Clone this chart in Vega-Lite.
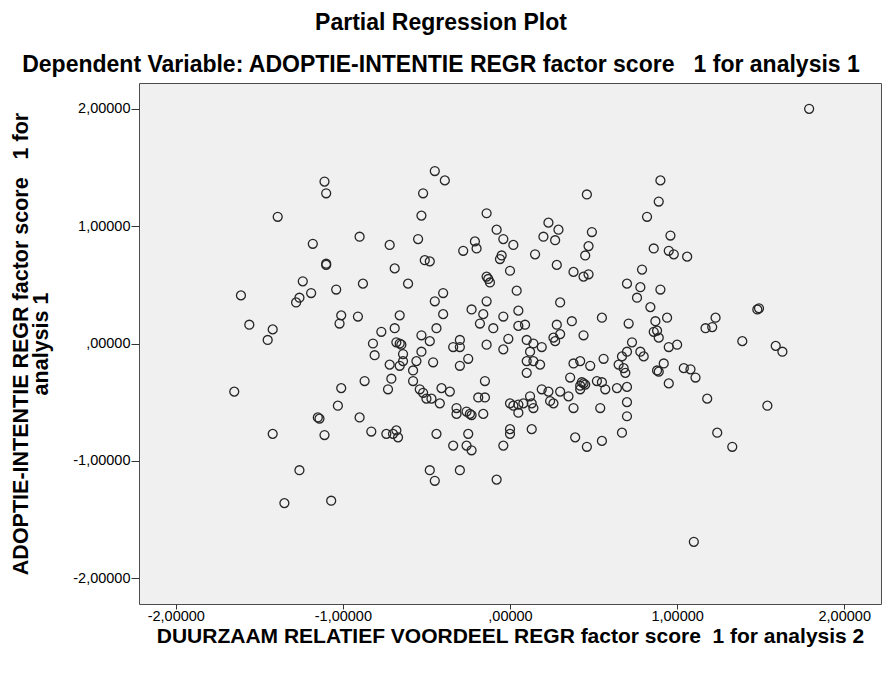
{
  "$schema": "https://vega.github.io/schema/vega-lite/v6.json",
  "width": 742,
  "height": 521,
  "autosize": {"type": "none"},
  "padding": {"left": 139, "top": 83, "right": 1, "bottom": 71},
  "background": "white",
  "title": {
    "text": "Partial Regression Plot",
    "subtitle": "Dependent Variable: ADOPTIE-INTENTIE REGR factor score\u00a0\u00a0 1 for analysis 1",
    "anchor": "middle",
    "dx": -69,
    "offset": 6,
    "font": "Liberation Sans",
    "fontSize": 23,
    "fontWeight": "bold",
    "color": "black",
    "subtitleFont": "Liberation Sans",
    "subtitleFontSize": 23,
    "subtitleFontWeight": "bold",
    "subtitleColor": "black",
    "subtitlePadding": 19
  },
  "data": {
    "values": [
      {"x": -1.11, "y": 1.38}, {"x": -1.10, "y": 1.28}, {"x": -1.39, "y": 1.08}, {"x": -0.90, "y": 0.91},
      {"x": -1.18, "y": 0.85}, {"x": -0.72, "y": 0.84}, {"x": -0.45, "y": 1.47}, {"x": -0.39, "y": 1.39},
      {"x": -0.52, "y": 1.28}, {"x": 0.46, "y": 1.27}, {"x": -0.53, "y": 1.09}, {"x": -0.14, "y": 1.11},
      {"x": 0.23, "y": 1.03}, {"x": 0.29, "y": 0.97}, {"x": -0.08, "y": 0.97}, {"x": 0.49, "y": 0.95},
      {"x": 0.20, "y": 0.91}, {"x": -0.04, "y": 0.89}, {"x": 0.27, "y": 0.88}, {"x": -0.55, "y": 0.89},
      {"x": -0.21, "y": 0.87}, {"x": -0.20, "y": 0.81}, {"x": -0.28, "y": 0.79}, {"x": 0.02, "y": 0.84},
      {"x": 0.47, "y": 0.83}, {"x": 0.15, "y": 0.76}, {"x": -0.05, "y": 0.75}, {"x": 0.45, "y": 0.75},
      {"x": 1.79, "y": 2.00}, {"x": 0.90, "y": 1.39}, {"x": 0.89, "y": 1.21}, {"x": 0.82, "y": 1.08},
      {"x": 0.96, "y": 0.92}, {"x": 0.86, "y": 0.81}, {"x": 0.95, "y": 0.79}, {"x": 0.98, "y": 0.76},
      {"x": 1.06, "y": 0.74}, {"x": -1.10, "y": 0.67}, {"x": -1.10, "y": 0.68}, {"x": -0.69, "y": 0.64},
      {"x": -1.24, "y": 0.53}, {"x": -0.88, "y": 0.51}, {"x": -1.04, "y": 0.46}, {"x": -1.19, "y": 0.43},
      {"x": -1.61, "y": 0.41}, {"x": -1.26, "y": 0.39}, {"x": -1.28, "y": 0.35}, {"x": -1.01, "y": 0.24},
      {"x": -0.91, "y": 0.23}, {"x": -1.02, "y": 0.17}, {"x": -1.56, "y": 0.16}, {"x": -1.42, "y": 0.12},
      {"x": -0.77, "y": 0.10}, {"x": -0.69, "y": 0.13}, {"x": -1.45, "y": 0.03}, {"x": -0.82, "y": 0.00},
      {"x": -0.81, "y": -0.10}, {"x": -0.72, "y": -0.18}, {"x": -0.71, "y": -0.30}, {"x": -0.87, "y": -0.32},
      {"x": -0.73, "y": -0.39}, {"x": -1.01, "y": -0.38}, {"x": -1.65, "y": -0.41}, {"x": -1.03, "y": -0.53},
      {"x": -0.90, "y": -0.63}, {"x": -1.15, "y": -0.63}, {"x": -1.14, "y": -0.64}, {"x": -1.42, "y": -0.77},
      {"x": -1.11, "y": -0.78}, {"x": -0.83, "y": -0.75}, {"x": -0.74, "y": -0.77}, {"x": -1.26, "y": -1.08},
      {"x": -1.35, "y": -1.36}, {"x": -1.07, "y": -1.34}, {"x": -0.68, "y": -0.74}, {"x": -0.70, "y": -0.77},
      {"x": -0.67, "y": -0.80}, {"x": -0.44, "y": -0.77}, {"x": -0.25, "y": -0.77}, {"x": -0.34, "y": -0.87},
      {"x": -0.26, "y": -0.87}, {"x": -0.23, "y": -0.91}, {"x": -0.04, "y": -0.87}, {"x": 0.00, "y": -0.73},
      {"x": 0.00, "y": -0.77}, {"x": 0.13, "y": -0.73}, {"x": 0.39, "y": -0.80}, {"x": 0.46, "y": -0.88},
      {"x": 0.55, "y": -0.83}, {"x": 0.67, "y": -0.76}, {"x": -0.48, "y": -1.08}, {"x": -0.45, "y": -1.17},
      {"x": -0.30, "y": -1.08}, {"x": -0.08, "y": -1.16}, {"x": 1.24, "y": -0.76}, {"x": 1.33, "y": -0.88},
      {"x": 1.10, "y": -1.69}, {"x": 0.79, "y": 0.63}, {"x": 0.78, "y": 0.48}, {"x": 0.90, "y": 0.46},
      {"x": 0.76, "y": 0.39}, {"x": 0.84, "y": 0.31}, {"x": 1.49, "y": 0.30}, {"x": 1.48, "y": 0.29},
      {"x": 0.94, "y": 0.22}, {"x": 1.23, "y": 0.22}, {"x": 0.87, "y": 0.19}, {"x": 1.17, "y": 0.13},
      {"x": 1.21, "y": 0.14}, {"x": 0.86, "y": 0.10}, {"x": 0.88, "y": 0.11}, {"x": 0.89, "y": 0.05},
      {"x": 1.39, "y": 0.02}, {"x": 1.00, "y": -0.01}, {"x": 0.95, "y": -0.03}, {"x": 1.59, "y": -0.02},
      {"x": 1.63, "y": -0.07}, {"x": 0.78, "y": -0.07}, {"x": 0.80, "y": -0.11}, {"x": 0.92, "y": -0.17},
      {"x": 0.88, "y": -0.23}, {"x": 0.89, "y": -0.24}, {"x": 1.04, "y": -0.21}, {"x": 1.08, "y": -0.22},
      {"x": 1.11, "y": -0.29}, {"x": 0.95, "y": -0.34}, {"x": 1.18, "y": -0.47}, {"x": 1.54, "y": -0.53},
      {"x": -0.51, "y": 0.71}, {"x": -0.48, "y": 0.70}, {"x": -0.06, "y": 0.72}, {"x": 0.28, "y": 0.67},
      {"x": 0.00, "y": 0.62}, {"x": 0.38, "y": 0.61}, {"x": 0.44, "y": 0.57}, {"x": 0.47, "y": 0.59},
      {"x": -0.14, "y": 0.57}, {"x": -0.13, "y": 0.55}, {"x": -0.12, "y": 0.52}, {"x": -0.61, "y": 0.51},
      {"x": 0.70, "y": 0.51}, {"x": 0.04, "y": 0.45}, {"x": -0.40, "y": 0.43}, {"x": -0.45, "y": 0.36},
      {"x": -0.14, "y": 0.36}, {"x": 0.30, "y": 0.35}, {"x": -0.23, "y": 0.29}, {"x": 0.05, "y": 0.28},
      {"x": -0.40, "y": 0.25}, {"x": -0.16, "y": 0.25}, {"x": -0.66, "y": 0.24}, {"x": -0.04, "y": 0.23},
      {"x": 0.55, "y": 0.22}, {"x": 0.37, "y": 0.19}, {"x": -0.18, "y": 0.17}, {"x": 0.71, "y": 0.17},
      {"x": 0.05, "y": 0.15}, {"x": 0.09, "y": 0.16}, {"x": 0.28, "y": 0.16}, {"x": -0.44, "y": 0.13},
      {"x": -0.10, "y": 0.13}, {"x": -0.53, "y": 0.07}, {"x": 0.44, "y": 0.07}, {"x": 0.30, "y": 0.08},
      {"x": 0.26, "y": 0.05}, {"x": 0.27, "y": 0.02}, {"x": -0.01, "y": 0.04}, {"x": 0.10, "y": 0.03},
      {"x": -0.30, "y": 0.03}, {"x": -0.48, "y": 0.02}, {"x": 0.73, "y": 0.01}, {"x": -0.68, "y": 0.01},
      {"x": -0.66, "y": 0.00}, {"x": -0.65, "y": -0.01}, {"x": -0.34, "y": -0.03}, {"x": -0.30, "y": -0.03},
      {"x": -0.14, "y": -0.01}, {"x": 0.14, "y": 0.00}, {"x": 0.19, "y": -0.03}, {"x": -0.04, "y": -0.05},
      {"x": 0.12, "y": -0.07}, {"x": -0.53, "y": -0.07}, {"x": -0.64, "y": -0.09}, {"x": 0.70, "y": -0.07},
      {"x": 0.67, "y": -0.11}, {"x": -0.64, "y": -0.15}, {"x": -0.66, "y": -0.19}, {"x": -0.56, "y": -0.15},
      {"x": -0.46, "y": -0.16}, {"x": -0.25, "y": -0.13}, {"x": 0.10, "y": -0.15}, {"x": 0.14, "y": -0.15},
      {"x": 0.18, "y": -0.18}, {"x": 0.38, "y": -0.17}, {"x": 0.42, "y": -0.15}, {"x": 0.48, "y": -0.19},
      {"x": 0.56, "y": -0.13}, {"x": 0.65, "y": -0.18}, {"x": 0.68, "y": -0.21}, {"x": 0.69, "y": -0.25},
      {"x": -0.30, "y": -0.19}, {"x": -0.58, "y": -0.23}, {"x": 0.10, "y": -0.25}, {"x": 0.36, "y": -0.29},
      {"x": -0.58, "y": -0.32}, {"x": -0.15, "y": -0.32}, {"x": 0.43, "y": -0.33}, {"x": 0.45, "y": -0.35},
      {"x": 0.42, "y": -0.36}, {"x": 0.44, "y": -0.34}, {"x": 0.52, "y": -0.32}, {"x": 0.55, "y": -0.33},
      {"x": 0.70, "y": -0.37}, {"x": 0.64, "y": -0.38}, {"x": 0.57, "y": -0.39}, {"x": -0.41, "y": -0.38},
      {"x": -0.36, "y": -0.41}, {"x": -0.54, "y": -0.39}, {"x": -0.52, "y": -0.42}, {"x": -0.50, "y": -0.47},
      {"x": -0.47, "y": -0.47}, {"x": -0.19, "y": -0.46}, {"x": -0.15, "y": -0.46}, {"x": 0.19, "y": -0.39},
      {"x": 0.23, "y": -0.41}, {"x": 0.30, "y": -0.41}, {"x": 0.12, "y": -0.45}, {"x": 0.24, "y": -0.49},
      {"x": 0.26, "y": -0.51}, {"x": 0.35, "y": -0.45}, {"x": 0.42, "y": -0.39}, {"x": 0.70, "y": -0.50},
      {"x": -0.42, "y": -0.51}, {"x": 0.00, "y": -0.51}, {"x": 0.02, "y": -0.53}, {"x": 0.05, "y": -0.52},
      {"x": 0.08, "y": -0.51}, {"x": 0.13, "y": -0.51}, {"x": 0.14, "y": -0.55}, {"x": -0.32, "y": -0.55},
      {"x": -0.32, "y": -0.60}, {"x": -0.26, "y": -0.58}, {"x": -0.23, "y": -0.61}, {"x": -0.24, "y": -0.60},
      {"x": -0.16, "y": -0.60}, {"x": 0.05, "y": -0.59}, {"x": 0.38, "y": -0.55}, {"x": 0.54, "y": -0.55},
      {"x": 0.70, "y": -0.62}
    ]
  },
  "mark": {"type": "point", "shape": "circle", "filled": false, "size": 80, "strokeWidth": 1.3, "color": "#262626", "opacity": 1},
  "encoding": {
    "x": {
      "field": "x",
      "type": "quantitative",
      "scale": {"domain": [-2.22, 2.22], "nice": false, "zero": false},
      "axis": {
        "values": [-2, -1, 0, 1, 2],
        "title": "DUURZAAM RELATIEF VOORDEEL REGR factor score\u00a0 1 for analysis 2",
        "labelExpr": "datum.value == 0 ? ',00000' : replace(replace(format(datum.value, '.5f'), '.', ','), '\u2212', '-')",
        "tickSize": 5,
        "titlePadding": 3,
        "labelPadding": 0
      }
    },
    "y": {
      "field": "y",
      "type": "quantitative",
      "scale": {"domain": [-2.22, 2.22], "nice": false, "zero": false},
      "axis": {
        "values": [-2, -1, 0, 1, 2],
        "title": ["ADOPTIE-INTENTIE REGR factor score\u00a0\u00a0 1 for", "analysis 1"],
        "titleLineHeight": 20,
        "titleFontSize": 21.5,
        "labelExpr": "datum.value == 0 ? ',00000' : replace(replace(format(datum.value, '.5f'), '.', ','), '\u2212', '-')",
        "titlePadding": 20,
        "labelPadding": 1
      }
    }
  },
  "config": {
    "view": {"fill": "#F0F0F0", "stroke": "#4d4d4d", "strokeWidth": 1},
    "axis": {
      "domain": false,
      "grid": false,
      "tickColor": "#333333",
      "tickSize": 8,
      "labelFont": "Liberation Sans",
      "labelFontSize": 14.5,
      "labelColor": "black",
      "titleFont": "Liberation Sans",
      "titleFontSize": 21,
      "titleFontWeight": "bold",
      "titleColor": "black"
    }
  }
}
